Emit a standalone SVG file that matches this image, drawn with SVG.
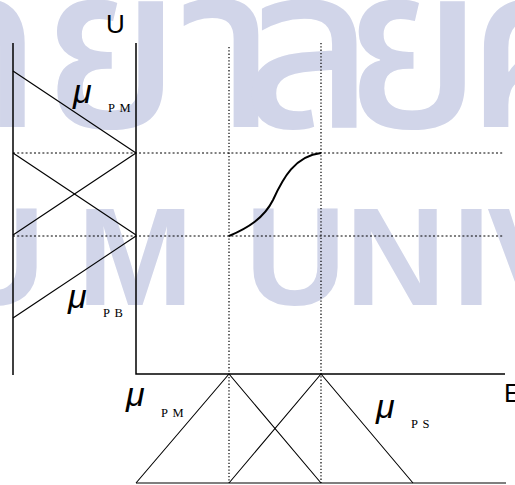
<svg xmlns="http://www.w3.org/2000/svg" width="515" height="485" viewBox="0 0 515 485">
<style>
.wm{font-family:"Liberation Sans",Arial,sans-serif;font-weight:bold;fill:#D1D5E9}
.wt{font-family:"Noto Sans Thai","Noto Sans Thai UI",Loma,sans-serif;font-weight:500;fill:#D1D5E9}
.ax{stroke:#000;stroke-width:1.5;fill:none}
.mf{stroke:#000;stroke-width:1.1;fill:none}
.dh{stroke:#000;stroke-width:1;stroke-dasharray:2 2.2;fill:none}
.dv{stroke:#000;stroke-width:1.2;stroke-dasharray:1.3 2;fill:none}
.lbl{font-family:"Liberation Sans",Arial,sans-serif;font-size:26px;fill:#000}
.mu{font-family:"Liberation Sans",Arial,sans-serif;font-style:italic;font-size:34px;fill:#000}
.sub{font-family:"Liberation Serif","Times New Roman",serif;font-size:12.5px;fill:#000;word-spacing:2px}
</style>
<rect width="515" height="485" fill="#fff"/>
<g id="watermark">
<text class="wt" font-size="230" x="-100" y="127">ทยา<tspan x="241">ลั</tspan><tspan x="344">ย</tspan><tspan x="466">ศ</tspan></text>
<text class="wm" font-size="140" x="-56 77 184 245 345 452 487" y="305">UM UNIV</text>
</g>
<g id="connectors">
<line class="dh" x1="13" y1="153" x2="503" y2="153"/>
<line class="dh" x1="13" y1="236" x2="503" y2="236"/>
<line class="dv" x1="229" y1="47" x2="229" y2="483"/>
<line class="dv" x1="321" y1="43" x2="321" y2="483"/>
</g>
<g id="axis-u">
<line class="ax" x1="13" y1="43" x2="13" y2="375"/>
<path class="ax" d="M136,43 V374 H505"/>
</g>
<g id="mf-left">
<line class="mf" x1="13" y1="71" x2="136" y2="153"/>
<line class="mf" x1="13" y1="153" x2="136" y2="235"/>
<line class="mf" x1="136" y1="153" x2="13" y2="235"/>
<line class="mf" x1="136" y1="236" x2="13" y2="318"/>
</g>
<g id="mf-bottom">
<line class="mf" x1="136" y1="483" x2="506" y2="483"/>
<polyline class="mf" points="136,483 229,374 321,483"/>
<polyline class="mf" points="229,483 321,374 413,483"/>
</g>
<g id="curve">
<path d="M229,236 C248,228 264,218 273,200 C283,178 295,156 321,153" stroke="#000" stroke-width="2" fill="none"/>
</g>
<g id="labels">
<text class="lbl" x="106" y="33">U</text>
<text class="lbl" x="504" y="402">E</text>
<g id="mu-pm-left"><text class="mu" x="73" y="103">μ</text><text class="sub" x="108" y="112">P M</text></g>
<g id="mu-pb"><text class="mu" x="68" y="308">μ</text><text class="sub" x="103" y="317">P B</text></g>
<g id="mu-pm-bottom"><text class="mu" x="126" y="406">μ</text><text class="sub" x="161" y="417">P M</text></g>
<g id="mu-ps"><text class="mu" x="376" y="418">μ</text><text class="sub" x="411" y="428">P S</text></g>
</g>
</svg>
